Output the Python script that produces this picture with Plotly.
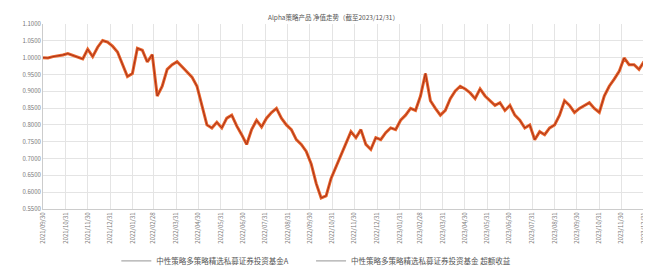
import pandas as pd
import plotly.graph_objects as go

title_text = "Alpha策略产品 净值走势（截至2023/12/31）"
series_names = ["中性策略多策略精选私募证券投资基金A", "中性策略多策略精选私募证券投资基金 超额收益"]

nav_values = [
    1.000, 0.999, 1.003, 1.005, 1.008, 1.012, 1.007, 1.002, 0.996, 1.025,
    1.003, 1.031, 1.051, 1.046, 1.034, 1.017, 0.979, 0.944, 0.953, 1.028,
    1.022, 0.987, 1.009, 0.886, 0.915, 0.965, 0.979, 0.988, 0.973, 0.959,
    0.942, 0.915, 0.858, 0.800, 0.791, 0.808, 0.791, 0.820, 0.829, 0.797,
    0.771, 0.742, 0.786, 0.814, 0.794, 0.820, 0.837, 0.849, 0.820, 0.800,
    0.786, 0.756, 0.742, 0.721, 0.684, 0.626, 0.583, 0.589, 0.641, 0.675,
    0.713, 0.742, 0.780, 0.762, 0.786, 0.742, 0.727, 0.762, 0.756, 0.777,
    0.791, 0.786, 0.814, 0.829, 0.849, 0.843, 0.886, 0.953, 0.872, 0.849,
    0.829, 0.843, 0.878, 0.901, 0.915, 0.907, 0.895, 0.878, 0.907, 0.886,
    0.872, 0.858, 0.866, 0.843, 0.858, 0.829, 0.814, 0.791, 0.800, 0.756,
    0.780, 0.771, 0.791, 0.800, 0.829, 0.872, 0.858, 0.837, 0.849, 0.858,
    0.866, 0.849, 0.837, 0.886, 0.915, 0.936, 0.959, 0.999, 0.979, 0.979,
    0.965, 0.988,
]
excess_values = nav_values

start_date = "2021-09-30"
end_date = "2023-12-31"

tick_dates = [
    "2021-09-30", "2021-10-31", "2021-11-30", "2021-12-31", "2022-01-31", "2022-02-28",
    "2022-03-31", "2022-04-30", "2022-05-31", "2022-06-30", "2022-07-31", "2022-08-31",
    "2022-09-30", "2022-10-31", "2022-11-30", "2022-12-31", "2023-01-31", "2023-02-28",
    "2023-03-31", "2023-04-30", "2023-05-31", "2023-06-30", "2023-07-31", "2023-08-31",
    "2023-09-30", "2023-10-31", "2023-11-30", "2023-12-31",
]
tick_labels = [d.replace("-", "/") for d in tick_dates]

y_ticks = [1.10, 1.05, 1.00, 0.95, 0.90, 0.85, 0.80, 0.75, 0.70, 0.65, 0.60, 0.55]

dates = pd.date_range(start_date, end_date, periods=len(nav_values))

fig = go.Figure()
fig.add_trace(go.Scatter(x=dates, y=nav_values, mode="lines", name=series_names[0],
                         line=dict(color="#E8642A", width=3.0), showlegend=False))
fig.add_trace(go.Scatter(x=dates, y=excess_values, mode="lines", name=series_names[1],
                         line=dict(color="#A8321A", width=1.0), showlegend=False))
# legend entries (thin grey keys as in the reference)
for nm, lg in zip(series_names, ["legend", "legend2"]):
    fig.add_trace(go.Scatter(x=[None], y=[None], mode="lines", name=nm, legend=lg,
                             line=dict(color="#AAAAAA", width=1.2), showlegend=True))

legend_style = dict(orientation="h", y=-0.28, yanchor="middle", xanchor="left",
                    font=dict(size=7.5, color="#555555"), itemwidth=30,
                    bgcolor="rgba(0,0,0,0)")

fig.update_layout(
    width=651, height=278,
    margin=dict(l=35, r=11, t=12, b=66),
    paper_bgcolor="white", plot_bgcolor="white",
    font=dict(family="Noto Sans CJK SC", size=6, color="#666666"),
    title=dict(text=title_text, x=0.5, xanchor="center", y=0.965, yanchor="middle",
               font=dict(size=6.5, color="#555555")),
    showlegend=True,
    legend=dict(x=0.122, **legend_style),
    legend2=dict(x=0.446, **legend_style),
)
fig.update_xaxes(
    range=[pd.Timestamp(start_date), pd.Timestamp(end_date)],
    tickvals=tick_dates, ticktext=tick_labels, tickangle=-90,
    showgrid=True, gridcolor="#E4E4E4", gridwidth=1,
    showline=True, linecolor="#CCCCCC", ticks="", tickfont=dict(size=6, color="#777777"),
)
fig.update_yaxes(
    range=[0.55, 1.10], tickvals=y_ticks, tickformat=".4f",
    showgrid=True, gridcolor="#E4E4E4", gridwidth=1,
    showline=True, linecolor="#CCCCCC", ticks="", tickfont=dict(size=6, color="#777777"),
    zeroline=False,
)

fig.write_html("out.html")
